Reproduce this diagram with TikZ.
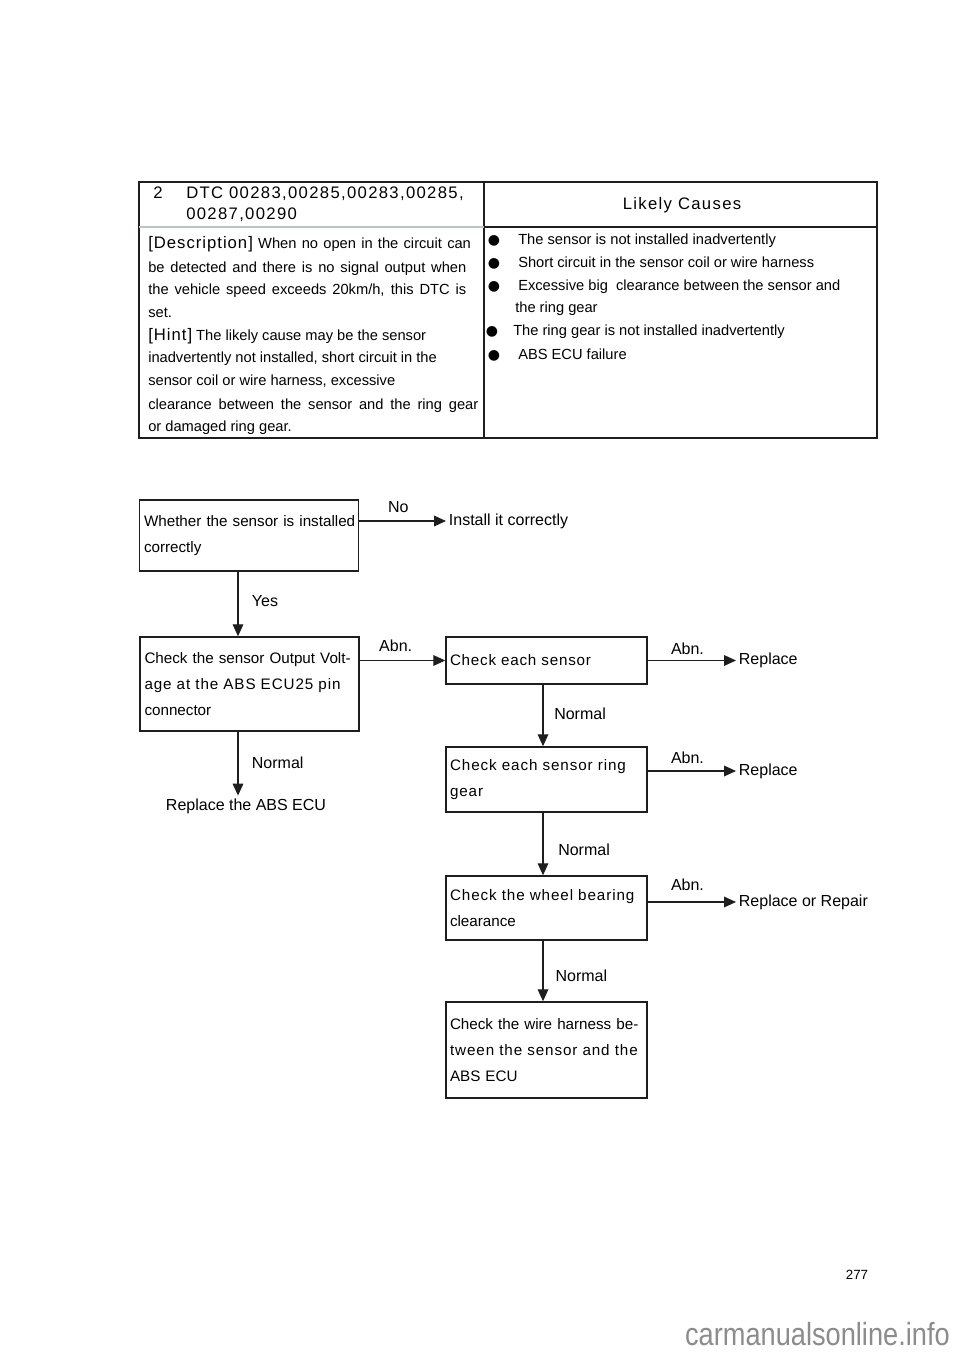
\documentclass[tikz,border=0pt]{standalone}
\usepackage{fontspec}
\setmainfont{Liberation Sans}
\newfontfamily\symfont{DejaVu Sans}
\usepackage{tikz}
\usetikzlibrary{arrows.meta, positioning, calc}
\usepackage{xcolor}
\definecolor{DG}{RGB}{30,30,30}
\definecolor{LG}{RGB}{185,198,198}
\definecolor{WM}{RGB}{140,140,140}
\newcommand{\ls}[1]{{\addfontfeature{LetterSpace=6}#1}}
\newcommand{\fillto}[2]{\makebox[#1pt][s]{#2}}

\begin{document}
\begin{tikzpicture}[
  x=0.75pt, y=-0.75pt,
  box/.style={draw=DG, line width=1.1pt, inner sep=0pt, align=left,
              font=\fontsize{11.4}{19.5}\selectfont},
  lbox/.style={box, text width=157.5pt, minimum width=164.25pt},
  rbox/.style={box, text width=144.75pt, minimum width=150.75pt},
  lbl/.style={font=\fontsize{12}{14}\selectfont, inner sep=2pt},
  tag/.style={font=\fontsize{12}{14}\selectfont, inner sep=0pt},
  arr/.style={-{Triangle[length=9pt,width=8pt]}, line width=0.9pt, draw=DG},
  cell/.style={font=\fontsize{11}{13}\selectfont, anchor=base west, inner sep=0pt},
  head/.style={font=\fontsize{12.5}{14}\selectfont\addfontfeature{LetterSpace=8},
               anchor=base west, inner sep=0pt}
]
\fill[white] (0,0) rectangle (960,1358);
\useasboundingbox (0,0) rectangle (960,1358);

% Table frame
\draw[DG, line width=0.9pt] (139,182) rectangle (877,438);
\draw[DG, line width=0.9pt] (484,182) -- (484,438);
\draw[LG, line width=0.8pt] (139,227) -- (484,227);
\draw[DG, line width=0.9pt] (484,227) -- (877,227);

% Table header
\node[head] (dtcno) at (153,199) {2};
\node[head] (dtc1) at (186,199) {DTC 00283,00285,00283,00285,};
\node[head] (dtc2) at (186,220) {00287,00290};
\node[head, anchor=center] (causes) at (682,205) {Likely Causes};

% Description / hint column
\node[cell] (d1) at (148,249) {\fillto{242}{{\addfontfeature{LetterSpace=6}\fontsize{12.5}{14}\selectfont [Description]} When no open in the circuit can}};
\foreach \y/\t in {273/{\fillto{238.5}{be detected and there is no signal output when}},
                   295/{\fillto{238.5}{the vehicle speed exceeds 20km/h, this DTC is}},
                   318/{set.},
                   363/{inadvertently not installed, short circuit in the},
                   386/{sensor coil or wire harness, excessive},
                   409/{\fillto{247.5}{clearance between the sensor and the ring gear}},
                   431/{or damaged ring gear.}}{
  \node[cell] at (148,\y) {\t};
}
\node[cell] (h1) at (148,341) {{\addfontfeature{LetterSpace=6}\fontsize{12.5}{14}\selectfont [Hint]} The likely cause may be the sensor};

% Likely causes column
\foreach \y/\bx/\tx/\t in {245/494/518/{The sensor is not installed inadvertently},
                           268/494/518/{Short circuit in the sensor coil or wire harness},
                           291/494/518/{Excessive big\ \ clearance between the sensor and},
                           336/492/513/{The ring gear is not installed inadvertently},
                           359/494/518/{ABS ECU failure}}{
  \node[font=\symfont\fontsize{10.5}{12}\selectfont, inner sep=0pt, anchor=base] at (\bx,\y) {●};
  \node[cell] at (\tx,\y) {\t};
}
\node[cell] (c3b) at (515,313) {the ring gear};

% Flow boxes
\node[lbox, minimum height=53.25pt] (b1) at (249,535.5)
  {\mbox{Whether the sensor is installed}\\correctly};
\node[lbox, minimum height=70.5pt] (b2) at (249.5,684)
  {\mbox{Check the sensor Output Volt-}\\\fillto{155.25}{\ls{age at the ABS ECU25 pin}}\\connector};
\node[rbox, minimum height=35.25pt] (b3) at (546.5,660.5)
  {\addfontfeature{LetterSpace=5}Check each sensor};
\node[rbox, minimum height=48.75pt] (b4) at (546.5,779.5)
  {\fillto{144}{\ls{Check each sensor ring}}\\\ls{gear}};
\node[rbox, minimum height=48pt] (b5) at (546.5,908)
  {\fillto{144}{\ls{Check the wheel bearing}}\\clearance};
\node[rbox, minimum height=72pt] (b6) at (546.5,1050)
  {\mbox{Check the wire harness be-}\\\fillto{148}{\ls{tween the sensor and the}}\\ABS ECU};

% Result labels
\node[lbl, anchor=west] (ins) at (446,521) {Install it correctly};
\node[lbl, anchor=west] (r1) at (736,660.5) {Replace};
\node[lbl, anchor=west] (r2) at (736,771) {Replace};
\node[lbl, anchor=west] (r3) at (736,902) {Replace or Repair};
\node[lbl] (ecu) at (246,806) {Replace the ABS ECU};

% Connector columns
\coordinate (lx) at (238,0);
\coordinate (rx) at (543,0);

% Horizontal branches (No / Abn.)
\draw[arr] (b1.east |- ins.west) -- (ins.west)
  node[tag, pos=0.45, above=6pt] {No};
\draw[arr] (b2.east |- b3.west) -- (b3.west)
  node[tag, pos=0.42, above=6pt] {Abn.};
\draw[arr] (b3.east) -- (r1.west)
  node[tag, pos=0.45, above=4pt] {Abn.};
\draw[arr] (b4.east |- r2.west) -- (r2.west)
  node[tag, pos=0.45, above=5pt] {Abn.};
\draw[arr] (b5.east |- r3.west) -- (r3.west)
  node[tag, pos=0.45, above=8pt] {Abn.};

% Vertical branches (Yes / Normal)
\draw[arr] (b1.south -| lx) -- (b2.north -| lx)
  node[tag, pos=0.46, right=10pt] {Yes};
\draw[arr] (b2.south -| lx) -- (ecu.north -| lx)
  node[tag, pos=0.48, right=10pt] {Normal};
\draw[arr] (b3.south -| rx) -- (b4.north -| rx)
  node[tag, pos=0.48, right=8pt] {Normal};
\draw[arr] (b4.south -| rx) -- (b5.north -| rx)
  node[tag, pos=0.6, right=11pt] {Normal};
\draw[arr] (b5.south -| rx) -- (b6.north -| rx)
  node[tag, pos=0.58, right=9pt] {Normal};

% Page number and footer
\node[font=\fontsize{10}{12}\selectfont, inner sep=0pt] (page) at (857,1275) {277};
\node[font=\fontsize{24}{26}\selectfont, text=WM, inner sep=0pt, anchor=east] (wm) at (950,1334)
  {\scalebox{0.85}[1]{carmanualsonline.info}};
\end{tikzpicture}
\end{document}
